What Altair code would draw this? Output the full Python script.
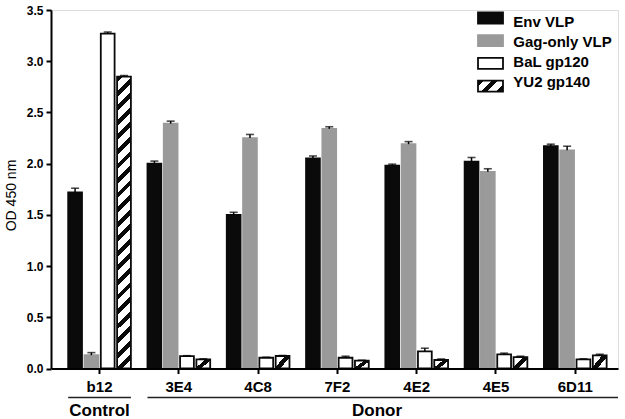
import altair as alt
import pandas as pd

# ---- data ----
groups = ["b12", "3E4", "4C8", "7F2", "4E2", "4E5", "6D11"]
series = ["Env VLP", "Gag-only VLP", "BaL gp120", "YU2 gp140"]

env = [1.72, 2.00, 1.50, 2.05, 1.98, 2.02, 2.17]
env_err = [0.04, 0.025, 0.025, 0.025, 0.015, 0.04, 0.02]
gag = [0.13, 2.39, 2.25, 2.34, 2.19, 1.92, 2.13]
gag_err = [0.025, 0.025, 0.035, 0.02, 0.025, 0.03, 0.04]
bal = [3.27, 0.12, 0.105, 0.105, 0.168, 0.138, 0.09]
bal_err = [0.015, 0.005, 0.005, 0.015, 0.03, 0.012, 0.005]
yu2 = [2.85, 0.09, 0.122, 0.076, 0.083, 0.112, 0.129]
yu2_err = [0.01, 0.005, 0.005, 0.005, 0.01, 0.008, 0.01]

group_names = ["Control", "Donor"]
group_first = ["b12", "3E4"]
group_last = ["b12", "6D11"]

# ---- tables ----
rows = []
for s, vals, errs in zip(series, [env, gag, bal, yu2], [env_err, gag_err, bal_err, yu2_err]):
    for g, v, e in zip(groups, vals, errs):
        rows.append({"group": g, "series": s, "value": v, "err": e})
df = pd.DataFrame(rows)
gdf = pd.DataFrame({"name": group_names, "first": group_first, "last": group_last})
ldf = pd.DataFrame({"series": series})

BLACK = "#0a0a0a"
GRAY = "#9a9a9a"
FONT = "Liberation Sans"


def hatch(x2, y2, cycles, duty):
    stops = []
    i = 0
    while i / cycles < 1:
        a = i / cycles
        b = (i + duty) / cycles
        stops.append({"offset": round(a, 5), "color": BLACK})
        stops.append({"offset": round(min(b, 1), 5), "color": BLACK})
        if b < 1:
            stops.append({"offset": round(b, 5), "color": "white"})
            stops.append({"offset": round(min((i + 1) / cycles, 1), 5), "color": "white"})
        i += 1
    return {"gradient": "linear", "x1": 0, "y1": 0, "x2": x2, "y2": y2, "stops": stops}


grad_big = hatch(0.0494, 1.045, 21, 0.4)
grad_small = {"gradient": "linear", "x1": 0, "y1": 0, "x2": 1.10, "y2": 0.877,
              "stops": [{"offset": 0, "color": "white"}, {"offset": 0.38, "color": "white"},
                        {"offset": 0.38, "color": BLACK}, {"offset": 0.62, "color": BLACK},
                        {"offset": 0.62, "color": "white"}, {"offset": 1, "color": "white"}]}
grad_legend = hatch(1.206, 0.531, 2.5, 0.4)

x_scale = alt.Scale(domain=groups, paddingInner=0.209, paddingOuter=0.18, align=0.602)
xo_scale = alt.Scale(domain=series, paddingInner=0.153, paddingOuter=0)
y_scale = alt.Scale(domain=[0, 3.5], nice=False, zero=True)
fill_scale = alt.Scale(domain=series, range=[BLACK, GRAY, "white", "white"])

x_axis = alt.Axis(title=None, labelAngle=0, labelFont=FONT, labelFontSize=15,
                  labelFontWeight="bold", labelColor="black", tickSize=5, tickWidth=2,
                  tickColor="black", domainColor="black", domainWidth=2,
                  labelPadding=6, zindex=1)
y_axis = alt.Axis(title="OD 450 nm", values=[0, 0.5, 1.0, 1.5, 2.0, 2.5, 3.0, 3.5],
                  format=".1f", grid=False, tickSize=5, tickWidth=2, tickColor="black",
                  domainColor="black", domainWidth=2, labelFont=FONT, labelFontSize=12,
                  labelFontWeight="bold", labelColor="black", labelPadding=3,
                  titleFont=FONT, titleFontSize=14, titleFontWeight="normal",
                  titleColor="black", titleX=-40, titleY=185, titleBaseline="middle",
                  zindex=1)

stroke_enc = alt.condition("datum.series === 'Gag-only VLP'", alt.value(GRAY), alt.value(BLACK))

base = alt.Chart(df)

bars = base.mark_bar(strokeWidth=1.8).encode(
    x=alt.X("group:N", scale=x_scale, axis=x_axis, sort=groups),
    xOffset=alt.XOffset("series:N", scale=xo_scale, sort=series),
    y=alt.Y("value:Q", scale=y_scale, axis=y_axis),
    fill=alt.Fill("series:N", scale=fill_scale, legend=None,
                  condition=[
                      {"test": "datum.series === 'YU2 gp140' && datum.value > 1", "value": grad_big},
                      {"test": "datum.series === 'YU2 gp140'", "value": grad_small}]),
    stroke=stroke_enc,
)

err_base = base.transform_calculate(top="datum.value + datum.err")

stems = err_base.mark_rule(strokeWidth=1.5, color="black").encode(
    x=alt.X("group:N", scale=x_scale, sort=groups),
    xOffset=alt.XOffset("series:N", scale=xo_scale, sort=series),
    y=alt.Y("value:Q", scale=y_scale, axis=None),
    y2="top:Q",
)
caps = err_base.mark_tick(size=8, thickness=1.6, color="black", orient="horizontal").encode(
    x=alt.X("group:N", scale=x_scale, sort=groups),
    xOffset=alt.XOffset("series:N", scale=xo_scale, sort=series),
    y=alt.Y("top:Q", scale=y_scale, axis=None),
)

gbase = alt.Chart(gdf)
control_rule = gbase.transform_filter("datum.name === 'Control'").mark_rule(
    strokeWidth=1.6, color="#222222").encode(
    x=alt.X("first:N", scale=x_scale, bandPosition=0),
    x2=alt.X2("last:N", bandPosition=1),
    y=alt.value(387.5),
)
donor_rule = gbase.transform_filter("datum.name === 'Donor'").mark_rule(
    strokeWidth=1.6, color="#222222").encode(
    x=alt.X("first:N", scale=x_scale, bandPosition=0),
    x2=alt.value("width"),
    y=alt.value(387.5),
)
group_text = gbase.mark_text(font=FONT, fontSize=17, fontWeight="bold", color="black",
                             baseline="middle", align="center").encode(
    x=alt.value({"expr": "(scale('x', datum.first) + scale('x', datum.last) + bandwidth('x')) / 2"}),
    y=alt.value(400.5),
    text="name:N",
)

# ---- hand-built legend (so the hatched swatch can be shown) ----
leg_y = alt.Scale(domain=series, range=[2.5, 81.6], paddingInner=0.515, paddingOuter=0)
leg_rect = alt.Chart(ldf).mark_rect(strokeWidth=1.8).encode(
    x=alt.value(427), x2=alt.value(452),
    y=alt.Y("series:N", scale=leg_y, axis=None, sort=series),
    fill=alt.Fill("series:N", scale=fill_scale, legend=None,
                  condition=[{"test": "datum.series === 'YU2 gp140'", "value": grad_legend}]),
    stroke=stroke_enc,
)
leg_text = alt.Chart(ldf).mark_text(font=FONT, fontSize=15, fontWeight="bold", color="black",
                                    align="left", baseline="middle").encode(
    x=alt.value(462.3),
    y=alt.Y("series:N", scale=leg_y, axis=None, sort=series),
    text="series:N",
)

chart = alt.layer(bars, stems, caps, control_rule, donor_rule, group_text,
                  leg_rect, leg_text).resolve_scale(y="independent").properties(
    width=567, height=358.5,
    autosize=alt.AutoSizeParams(type="none"),
    padding={"left": 51, "top": 10, "right": 7, "bottom": 50.5},
).configure_view(strokeWidth=0).configure(background="white")

chart.save("out.html", embed_options={"renderer": "svg", "actions": False})
